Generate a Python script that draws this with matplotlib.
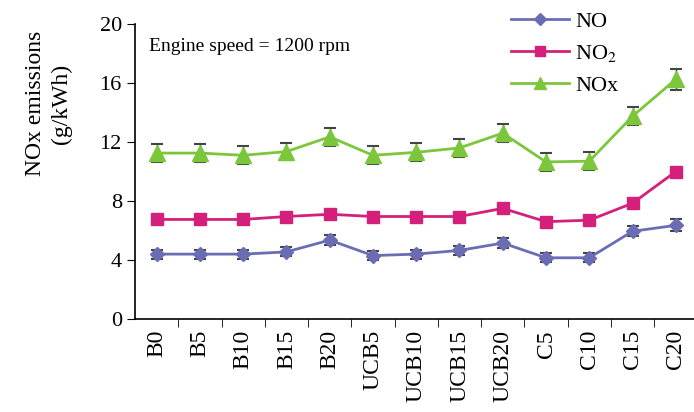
import matplotlib
matplotlib.use('Agg')
import matplotlib.pyplot as plt

plt.rcParams['font.family'] = ['Liberation Serif', 'DejaVu Serif']
plt.rcParams['mathtext.fontset'] = 'stix'

fuels = ['B0', 'B5', 'B10', 'B15', 'B20', 'UCB5', 'UCB10', 'UCB15', 'UCB20',
         'C5', 'C10', 'C15', 'C20']
no_vals = [4.4, 4.4, 4.4, 4.55, 5.35, 4.3, 4.4, 4.65, 5.15, 4.15, 4.15, 5.95, 6.35]
no2_vals = [6.75, 6.75, 6.75, 6.95, 7.1, 6.95, 6.95, 6.95, 7.5, 6.6, 6.7, 7.85, 10.0]
nox_vals = [11.25, 11.25, 11.1, 11.35, 12.35, 11.1, 11.3, 11.6, 12.6, 10.65, 10.7, 13.75, 16.25]
no_err = [0.3, 0.3, 0.3, 0.3, 0.35, 0.3, 0.3, 0.3, 0.35, 0.3, 0.3, 0.35, 0.4]
no2_err = [0.2] * 13
nox_err = [0.6, 0.6, 0.6, 0.6, 0.6, 0.6, 0.6, 0.6, 0.6, 0.6, 0.6, 0.6, 0.7]

x = list(range(len(fuels)))

fig = plt.figure(figsize=(6.94, 4.12), dpi=100)
ax = fig.add_axes([0.1945, 0.2257, 0.8055, 0.716])

series = [
    (no_vals, no_err, '#6a6db3', 'D', 7, 'NO'),
    (no2_vals, no2_err, '#d4207a', 's', 9, r'NO$_2$'),
    (nox_vals, nox_err, '#7cc63c', '^', 11, 'NOx'),
]
for vals, err, col, mk, ms, lab in series:
    ax.errorbar(x, vals, yerr=err, fmt='none', ecolor='#444444',
                elinewidth=1, capsize=4, capthick=1.5, zorder=2)
    ax.plot(x, vals, color=col, marker=mk, markersize=ms, lw=2,
            label=lab, zorder=3)

ax.set_xlim(-0.5, 12.42)
ax.set_ylim(0, 20)
ax.set_yticks([0, 4, 8, 12, 16, 20])
ax.set_xticks(x)
ax.set_xticklabels(fuels, rotation=90, fontsize=17)
ax.set_xticks([i + 0.5 for i in range(12)], minor=True)
ax.tick_params(axis='x', which='major', length=0, pad=8)
ax.tick_params(axis='x', which='minor', length=6, direction='out')
ax.tick_params(axis='y', length=6, direction='out', labelsize=16)

for s in ['top', 'right']:
    ax.spines[s].set_visible(False)
for s in ['left', 'bottom']:
    ax.spines[s].set_linewidth(1.2)

ax.set_ylabel('NOx emissions\n(g/kWh)', fontsize=17, linespacing=1.35)
ax.yaxis.set_label_coords(-0.112, 0.73)
ax.text(0.025, 0.925, 'Engine speed = 1200 rpm', transform=ax.transAxes,
        fontsize=14, va='center')

ax.legend(loc='upper right', bbox_to_anchor=(0.885, 1.08), frameon=False,
          fontsize=16, handlelength=2.6, handletextpad=0.3,
          labelspacing=0.5, borderpad=0, markerscale=0.85)

fig.savefig('out.png', dpi=100)
